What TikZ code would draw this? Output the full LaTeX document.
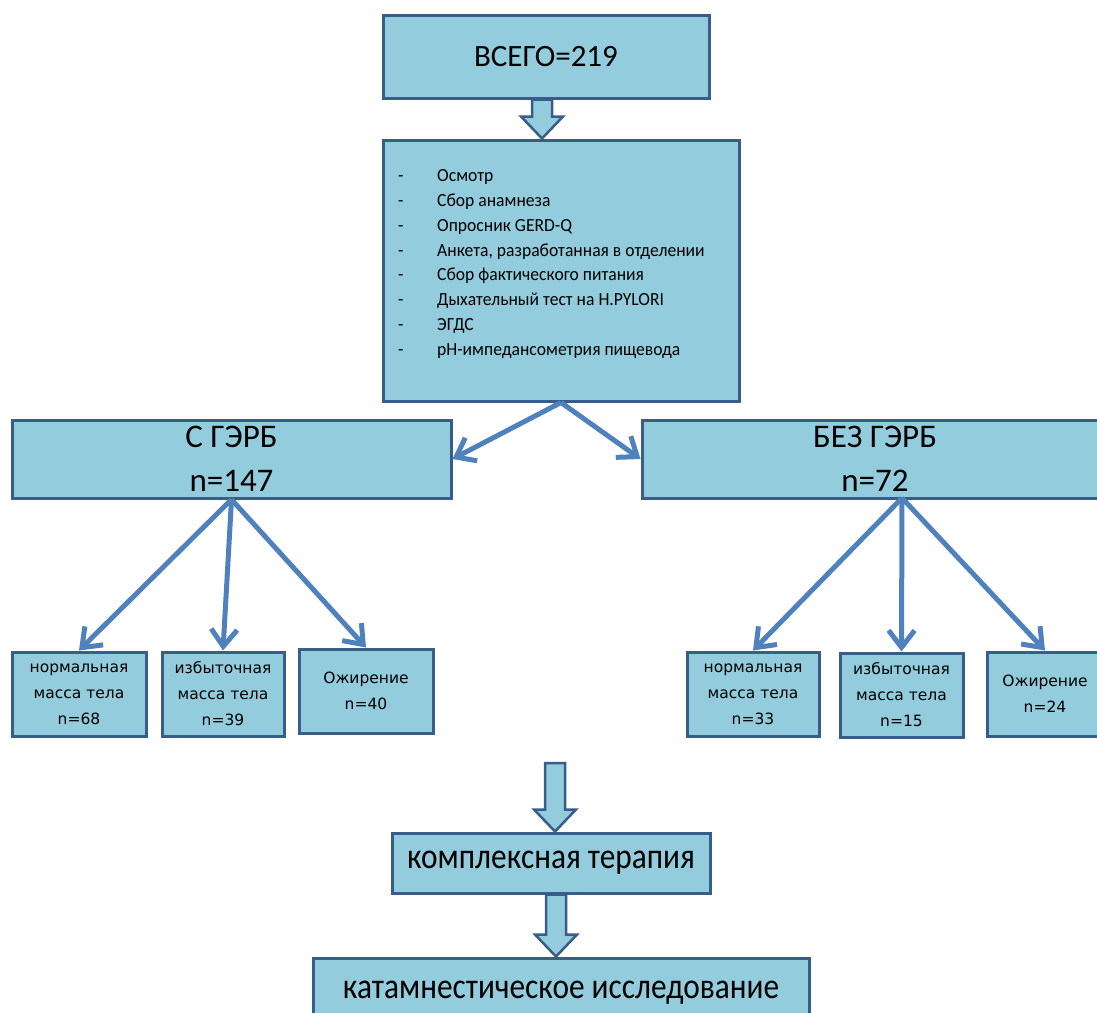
\documentclass[tikz,border=0pt]{standalone}
\usepackage{fontspec}
\setmainfont{Carlito}
\newfontfamily\listfont{Carlito}[FakeStretch=0.95]
\newfontfamily\narrowfont{Carlito}[FakeStretch=0.87]
\newfontfamily\smallfont{DejaVu Sans}
\usetikzlibrary{arrows.meta,calc}
\definecolor{boxfill}{HTML}{93CDDD}
\definecolor{boxline}{HTML}{385D8A}
\definecolor{arrowblue}{HTML}{4F81BD}
\tikzset{
  box/.style={draw=boxline, fill=boxfill, line width=3pt, inner sep=0pt, align=center},
  bigtext/.style={font=\fontsize{33}{44}\selectfont},
  bottomtext/.style={font=\narrowfont\fontsize{36}{40}\selectfont},
  smalltext/.style={font=\smallfont\fontsize{15.5}{26}\selectfont},
  smallbox/.style={box, smalltext, minimum height=84pt},
  conn/.style={draw=arrowblue, line width=5pt, -{Straight Barb[length=17pt,width=26pt]}},
  barrow/.style={draw=boxline, fill=boxfill, line width=2.5pt, line join=miter}
}
\newcommand\myblockarrow[3]{%
  \path[barrow] let \p1=(#1), \p2=(#2) in
    (#3pt-10pt,\y1) -- (#3pt+10pt,\y1) -- (#3pt+10pt,\y2+22pt) -- (#3pt+21pt,\y2+22pt)
    -- (#3pt,\y2) -- (#3pt-21pt,\y2+22pt) -- (#3pt-10pt,\y2+22pt) -- cycle;}
\begin{document}
\begin{tikzpicture}[x=1pt,y=-1pt]
\useasboundingbox (0,0) rectangle (1097,1012);

\node[box, minimum width=326pt, minimum height=83pt, font=\fontsize{31}{36}\selectfont] (top) at (546,56.5) {ВСЕГО=219};

\node[box, minimum width=356pt, minimum height=261pt] (mid) at (561,270.5) {};
\node[font=\listfont\fontsize{18.5}{24.8}\selectfont, align=left, anchor=west, inner sep=0pt] (list) at (398,264)
 {\makebox[39pt][l]{-}Осмотр\\
  \makebox[39pt][l]{-}Сбор анамнеза\\
  \makebox[39pt][l]{-}Опросник GERD-Q\\
  \makebox[39pt][l]{-}Анкета, разработанная в отделении\\
  \makebox[39pt][l]{-}Сбор фактического питания\\
  \makebox[39pt][l]{-}Дыхательный тест на H.PYLORI\\
  \makebox[39pt][l]{-}ЭГДС\\
  \makebox[39pt][l]{-}pH-импедансометрия пищевода};

\node[box, bigtext, minimum width=439pt, minimum height=78pt] (left) at (231.5,459) {С ГЭРБ\\n=147};
\node[box, bigtext, minimum width=466pt, minimum height=78pt] (right) at (875,459) {БЕЗ ГЭРБ\\n=72};

\node[smallbox, minimum width=134pt] (L1) at (79,694) {нормальная\\масса тела\\n=68};
\node[smallbox, minimum width=122pt] (L2) at (223,694) {избыточная\\масса тела\\n=39};
\node[smallbox, minimum width=134pt] (L3) at (366,691) {Ожирение\\n=40};

\node[smallbox, minimum width=132pt] (R1) at (753,694) {нормальная\\масса тела\\n=33};
\node[smallbox, minimum width=123pt] (R2) at (901.5,695) {избыточная\\масса тела\\n=15};
\node[smallbox, minimum width=116pt] (R3) at (1045,694) {Ожирение\\n=24};

\node[box, bottomtext, minimum width=318pt, minimum height=60pt] (ther) at (551,863) {комплексная терапия};
\node[box, bottomtext, minimum width=496pt, minimum height=70pt] (fin) at (561,993) {катамнестическое исследование};

\coordinate (rs) at (902,498);
\coordinate (rowb) at (555,763);

\myblockarrow{top.south}{mid.north}{542}
\myblockarrow{rowb}{ther.north}{555}
\myblockarrow{ther.south}{fin.north}{556}

\draw[conn] (mid.south) -- (left.east);
\draw[conn] (mid.south) -- (right.west);

\draw[conn] (left.south) -- (L1.north);
\draw[conn] (left.south) -- (L2.north);
\draw[conn] (left.south) -- (L3.north);

\draw[conn] (rs) -- (R1.north);
\draw[conn] (rs) -- (R2.north);
\draw[conn] (rs) -- (R3.north);
\end{tikzpicture}
\end{document}
